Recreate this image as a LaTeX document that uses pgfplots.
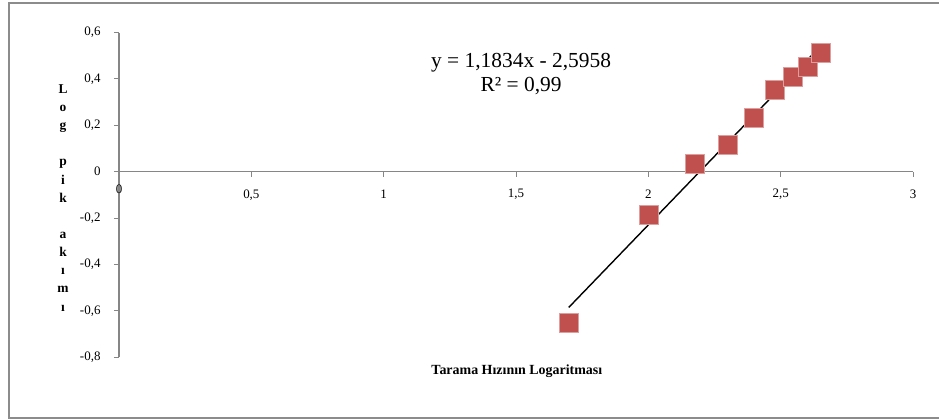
\documentclass[border=0pt]{standalone}
\usepackage{fontspec}
\setmainfont{Liberation Serif}
\usepackage{pgfplots}
\pgfplotsset{compat=1.18}
\definecolor{axisgray}{HTML}{868686}
\definecolor{framegray}{HTML}{8C8C8C}
\definecolor{markred}{HTML}{C0504D}

% log of scan rate vs. log of peak current
\pgfplotstableread{
x      y
1.699  -0.651
2.000  -0.187
2.176   0.033
2.301   0.116
2.398   0.231
2.477   0.353
2.544   0.411
2.602   0.453
2.653   0.512
}\peakdata

\begin{document}
\begin{tikzpicture}
\useasboundingbox (-119bp,-248.3bp) rectangle (820bp,171.7bp);
% chart frame
\draw[line width=1.6bp, color=framegray] (830bp,168.7bp) -- (-110bp,168.7bp) -- (-110bp,-246.3bp) -- (830bp,-246.3bp);
\begin{axis}[
  anchor=origin, at={(0,0)},
  x=264.7bp, y=232bp,
  xmin=0, xmax=3, ymin=-0.8, ymax=0.6,
  axis x line=middle, axis y line=left,
  axis line style={-, draw=axisgray, line width=1.1bp},
  xtick={0,0.5,...,3}, ytick={-0.8,-0.6,...,0.61},
  tick align=outside,
  major tick length=5bp,
  every tick/.style={draw=axisgray, line width=1.1bp},
  /pgf/number format/assume math mode=true,
  /pgf/number format/use comma,
  /pgf/number format/fixed,
  tick label style={font=\fontsize{13}{15}\selectfont},
  xticklabel style={anchor=center, yshift=-18bp},
  yticklabel style={anchor=east, xshift=-10bp},
  xlabel={Tarama Hızının Logaritması},
  xlabel style={font=\bfseries\fontsize{14}{16}\selectfont, at={(rel axis cs:0.501,-0.044)}, anchor=center},
  ylabel={L\\o\\g\\~\\p\\i\\k\\~\\a\\k\\ı\\m\\ı},
  ylabel style={rotate=-90, align=center, font=\bfseries\fontsize{13.5}{18.2}\selectfont, at={(rel axis cs:-0.0705,0.491)}, anchor=center},
  clip=false,
]
% the 0 label at the origin of the horizontal axis, under the vertical axis line
\node[font=\fontsize{13}{15}\selectfont, anchor=center, yshift=-18bp] at (axis cs:0,0) {0};
\addplot[only marks, mark=square*, mark size=9.5bp, mark options={fill=markred, draw=markred!55!white, line width=0.6bp}] table[x=x, y=y] {\peakdata};
% linear trendline y = 1,1834x - 2,5958 over the data range
\addplot[black, line width=1.4bp] coordinates {(1.699,-0.5852) (2.653,0.5438)};
\node[font=\fontsize{21.5}{24}\selectfont, align=center] at (axis cs:1.519,0.421) {y = 1,1834x - 2,5958\\R² = 0,99};
\end{axis}
\end{tikzpicture}
\end{document}
